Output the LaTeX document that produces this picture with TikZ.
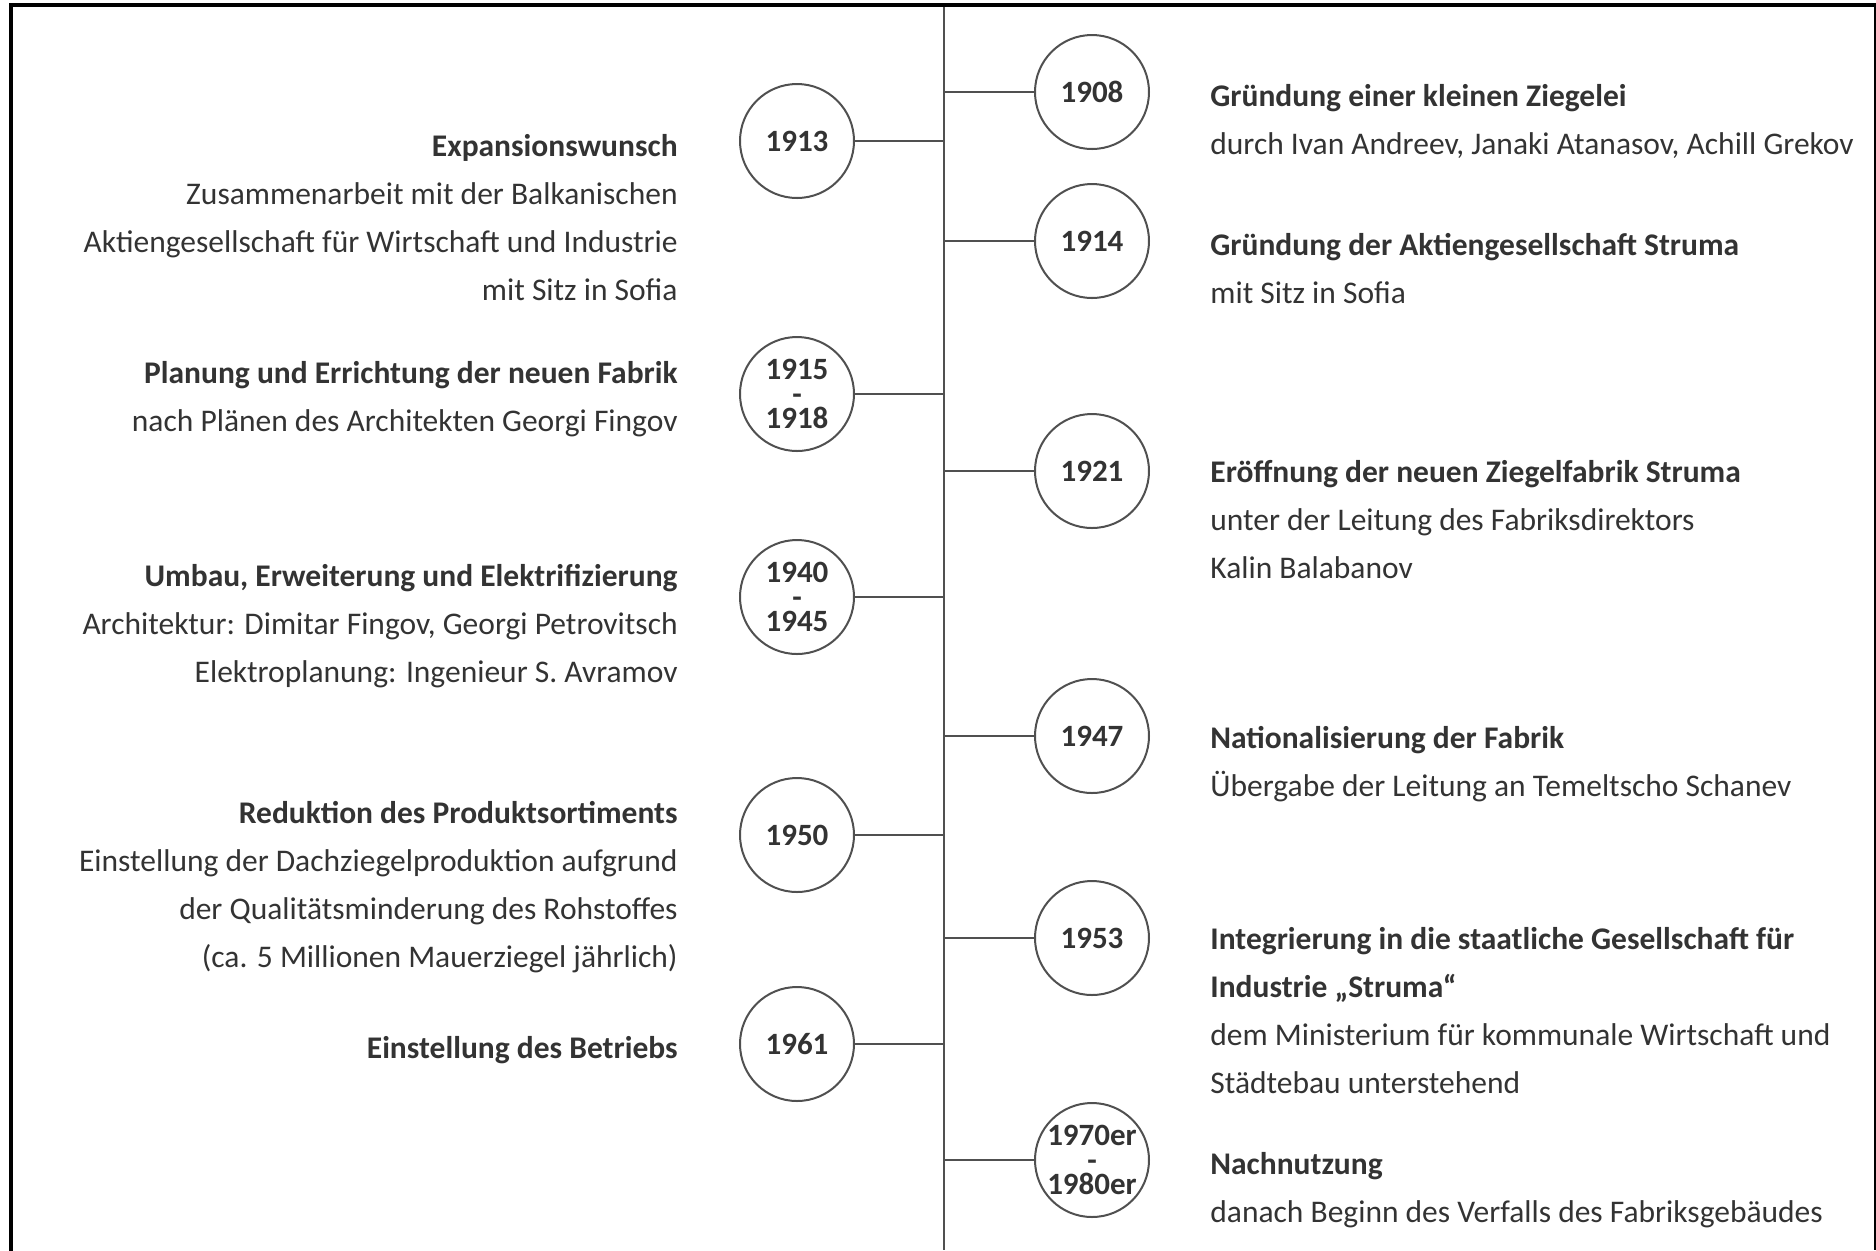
\documentclass[tikz,border=0pt]{standalone}
\usepackage{fontspec}
\setmainfont{Carlito}
\usetikzlibrary{positioning}
\definecolor{ink}{HTML}{333333}
\definecolor{rule}{HTML}{505050}

\begin{document}
\begin{tikzpicture}[x=0.5pt, y=-0.5pt,
    yr/.style={draw=rule, line width=1pt, circle, minimum size=57pt, inner sep=0pt,
      align=center, text=ink, font=\bfseries\fontsize{15.5}{12.3}\selectfont},
    rtext/.style={anchor=base west, align=left, inner sep=0pt, text=ink,
      font=\fontsize{15.75}{24}\selectfont},
    ltext/.style={anchor=base east, align=right, inner sep=0pt, text=ink,
      font=\fontsize{15.75}{24}\selectfont},
    tick/.style={draw=rule, line width=1pt}]
        \useasboundingbox (0,0) rectangle (1876,1250);

        % frame
        \draw[line width=2pt, line cap=rect] (11,1250) -- (11,5) -- (1874,5);
        \draw[line width=0.8pt] (1875,5) -- (1875,1250);

        % time axis
        \coordinate (top) at (944,7);
        \coordinate (bottom) at (944,1250);
        \draw[tick] (top) -- (bottom);

        % years
        \node[yr] (c1908) at (1092,92) {1908};
        \node[yr] (c1913) at (797,141) {1913};
        \node[yr] (c1914) at (1092,241) {1914};
        \node[yr] (c1915) at (797,394) {1915\\-\\1918};
        \node[yr] (c1921) at (1092,471) {1921};
        \node[yr] (c1940) at (797,597) {1940\\-\\1945};
        \node[yr] (c1947) at (1092,736) {1947};
        \node[yr] (c1950) at (797,835) {1950};
        \node[yr] (c1953) at (1092,938) {1953};
        \node[yr] (c1961) at (797,1044) {1961};
        \node[yr] (c1970) at (1092,1160) {1970er\\-\\1980er};

        \path[tick] (c1908) edge (top |- c1908);
        \path[tick] (c1913) edge (top |- c1913);
        \path[tick] (c1914) edge (top |- c1914);
        \path[tick] (c1915) edge (top |- c1915);
        \path[tick] (c1921) edge (top |- c1921);
        \path[tick] (c1940) edge (top |- c1940);
        \path[tick] (c1947) edge (top |- c1947);
        \path[tick] (c1950) edge (top |- c1950);
        \path[tick] (c1953) edge (top |- c1953);
        \path[tick] (c1961) edge (top |- c1961);
        \path[tick] (c1970) edge (top |- c1970);

        % right side (base = last line)
        \node[rtext] (t1908) at (1210,154) {\textbf{Gründung einer kleinen Ziegelei}\\
          durch Ivan Andreev, Janaki Atanasov, Achill Grekov};
        \node[rtext] (t1914) at (1210,303) {\textbf{Gründung der Aktiengesellschaft Struma}\\
          mit Sitz in Sofia};
        \node[rtext] (t1921) at (1210,578) {\textbf{Eröffnung der neuen Ziegelfabrik Struma}\\
          unter der Leitung des Fabriksdirektors\\Kalin Balabanov};
        \node[rtext] (t1947) at (1210,796) {\textbf{Nationalisierung der Fabrik}\\
          Übergabe der Leitung an Temeltscho Schanev};
        \node[rtext] (t1953) at (1210,1093) {\textbf{Integrierung in die staatliche Gesellschaft für}\\
          \textbf{Industrie „Struma“}\\
          dem Ministerium für kommunale Wirtschaft und\\Städtebau unterstehend};
        \node[rtext] (t1970) at (1210,1222) {\textbf{Nachnutzung}\\
          danach Beginn des Verfalls des Fabriksgebäudes};

        % left side
        \node[ltext] (t1913) at (678,300) {\textbf{Expansionswunsch}\\
          Zusammenarbeit mit der Balkanischen\\
          Aktiengesellschaft für Wirtschaft und Industrie\\mit Sitz in Sofia};
        \node[ltext] (t1915) at (678,431) {\textbf{Planung und Errichtung der neuen Fabrik}\\
          nach Plänen des Architekten Georgi Fingov};
        \node[ltext] (t1940) at (678,682) {\textbf{Umbau, Erweiterung und Elektrifizierung}\\
          Architektur: Dimitar Fingov, Georgi Petrovitsch\\
          Elektroplanung: Ingenieur S. Avramov};
        \node[ltext] (t1950) at (678,967) {\textbf{Reduktion des Produktsortiments}\\
          Einstellung der Dachziegelproduktion aufgrund\\
          der Qualitätsminderung des Rohstoffes\\
          (ca. 5 Millionen Mauerziegel jährlich)};
        \node[ltext] (t1961) at (678,1058) {\textbf{Einstellung des Betriebs}};
      \end{tikzpicture}
\end{document}
